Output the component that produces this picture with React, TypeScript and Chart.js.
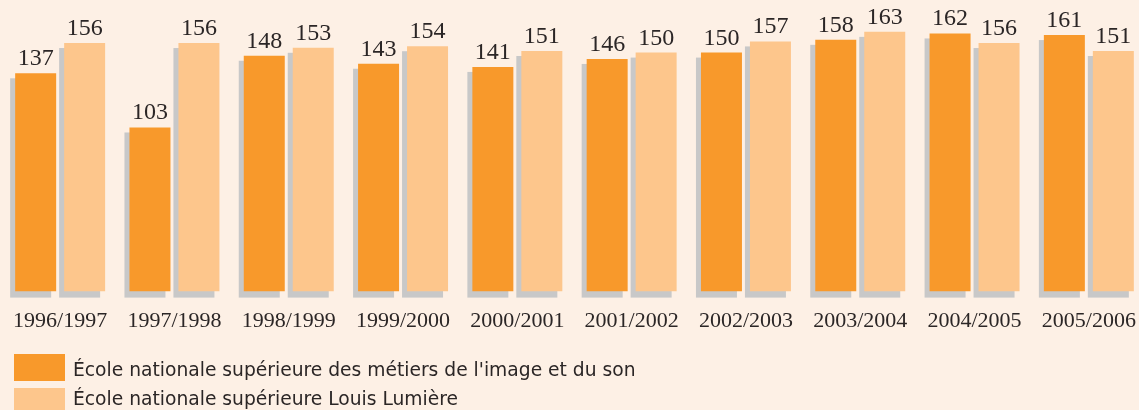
import React, { useEffect, useRef } from "react";
import { Chart, registerables } from "chart.js";

Chart.register(...registerables);

const categories = [
  "1996/1997", "1997/1998", "1998/1999", "1999/2000", "2000/2001",
  "2001/2002", "2002/2003", "2003/2004", "2004/2005", "2005/2006",
];
const metiersImageSon = [137, 103, 148, 143, 141, 146, 150, 158, 162, 161];
const louisLumiere = [156, 156, 153, 154, 151, 150, 157, 163, 156, 151];
const seriesLabels = [
  "École nationale supérieure des métiers de l'image et du son",
  "École nationale supérieure Louis Lumière",
];

const BG = "#fdf0e5";
const ORANGE = "#f8992b";
const LIGHT = "#fdc68c";
const SHADOW = "#c8c8c8";
const TEXT = "#2b2626";

const shadowPlugin = {
  id: "barShadow",
  beforeDatasetsDraw(chart: any) {
    const ctx = chart.ctx;
    ctx.save();
    ctx.fillStyle = SHADOW;
    chart.data.datasets.forEach((_: any, di: number) => {
      const meta = chart.getDatasetMeta(di);
      meta.data.forEach((bar: any) => {
        const p = bar.getProps(["x", "y", "base", "width"], true);
        ctx.fillRect(p.x - p.width / 2 - 5, p.y + 5, p.width, p.base - p.y + 1);
      });
    });
    ctx.restore();
  },
};

const valueLabelPlugin = {
  id: "valueLabels",
  afterDatasetsDraw(chart: any) {
    const ctx = chart.ctx;
    ctx.save();
    ctx.fillStyle = TEXT;
    ctx.font = "24px 'Liberation Serif'";
    ctx.textAlign = "center";
    ctx.textBaseline = "alphabetic";
    chart.data.datasets.forEach((ds: any, di: number) => {
      const meta = chart.getDatasetMeta(di);
      meta.data.forEach((bar: any, i: number) => {
        const p = bar.getProps(["x", "y"], true);
        ctx.fillText(String(ds.data[i]), p.x, p.y - 8);
      });
    });
    ctx.restore();
  },
};

const legendPlugin = {
  id: "stackedLegend",
  afterDraw(chart: any) {
    const ctx = chart.ctx;
    ctx.save();
    ctx.font = "18.7px 'DejaVu Sans'";
    ctx.textAlign = "left";
    ctx.textBaseline = "alphabetic";
    const boxTops = [354, 388];
    const baselines = [376, 405];
    chart.data.datasets.forEach((ds: any, di: number) => {
      ctx.fillStyle = ds.backgroundColor;
      ctx.fillRect(14, boxTops[di], 51, 27);
      ctx.fillStyle = TEXT;
      ctx.fillText(ds.label, 73, baselines[di]);
    });
    ctx.restore();
  },
};

export default function App() {
  const ref = useRef<HTMLCanvasElement>(null);
  useEffect(() => {
    if (!ref.current) return;
    const chart = new Chart(ref.current, {
      type: "bar",
      data: {
        labels: categories,
        datasets: [
          { label: seriesLabels[0], data: metiersImageSon, backgroundColor: ORANGE },
          { label: seriesLabels[1], data: louisLumiere, backgroundColor: LIGHT },
        ],
      },
      options: {
        animation: false,
        responsive: false,
        layout: { padding: { left: 3, right: 4, top: 0, bottom: 60 } },
        datasets: { bar: { categoryPercentage: 0.857, barPercentage: 0.837 } } as any,
        plugins: { legend: { display: false }, tooltip: { enabled: false } },
        scales: {
          x: {
            grid: { display: false, drawTicks: false },
            border: { display: false },
            ticks: {
              color: TEXT,
              font: { family: "'Liberation Serif'", size: 22 },
              padding: 16,
              maxRotation: 0,
              autoSkip: false,
            },
            afterFit(scale: any) {
              scale.paddingLeft = 0;
              scale.paddingRight = 0;
            },
          },
          y: { display: false, min: 0, max: 183 },
        },
      },
      plugins: [shadowPlugin, valueLabelPlugin, legendPlugin],
    });
    return () => chart.destroy();
  }, []);
  return (
    <div
      style={{
        position: "fixed",
        left: 0,
        top: 0,
        width: 1139,
        height: 410,
        overflow: "hidden",
        background: BG,
      }}
    >
      <canvas ref={ref} width={1150} height={410} style={{ width: 1150, height: 410, display: "block" }} />
    </div>
  );
}
